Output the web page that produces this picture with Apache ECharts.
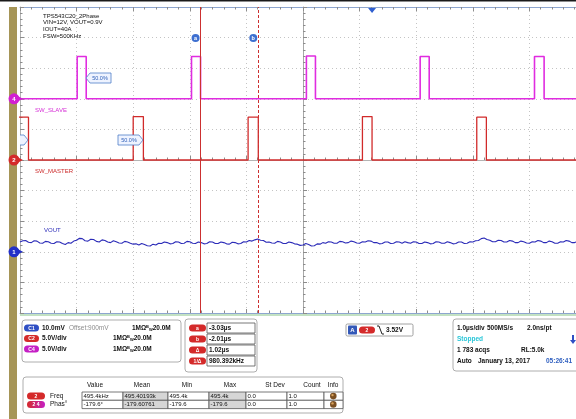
<!DOCTYPE html>
<html><head><meta charset="utf-8">
<script src="https://cdn.jsdelivr.net/npm/echarts@6/dist/echarts.min.js"></script>
<style>html,body{margin:0;padding:0;background:#fff;overflow:hidden;width:576px;height:419px}#c{width:600px;height:419px}</style>
</head><body><div id="c"></div>
<script>
// ---------------- data ----------------
const usPerDiv = 1.0;
const triggerDiv = 1.22;            // trigger position, divisions right of centre
const ch2VoltsPerDiv = 5.0, ch2OffsetDiv = 0;
const ch4VoltsPerDiv = 5.0, ch4OffsetDiv = 2;
const ch1mVPerDiv = 10.0, ch1OffsetmV = 900, ch1OffsetDiv = -3;

const ch2RiseUs = [-6.40, -4.22, -2.19, -0.17, 1.85];
const ch2FallUs = [-6.07, -4.04, -2.01, 0.00, 2.02];
const ch2HighV  = [7.0, 7.1, 7.0, 7.1, 7.0];
const ch4RiseUs = [-5.21, -3.19, -1.16, 0.85, 2.87];
const ch4FallUs = [-5.05, -3.03, -1.00, 1.01, 3.04];
const ch4HighV  = [6.9, 6.9, 7.0, 6.9, 6.9];

const voutStartUs = -6.22, voutStepUs = 0.05;
const voutmV = [
903.2,903.6,903.7,903.1,903.0,903.6,903.5,902.9,902.8,903.4,903.3,902.8,902.7,903.3,903.2,902.7,902.4,903.0,902.8,903.5,
903.8,904.4,904.3,903.6,903.5,904.1,904.0,903.4,903.2,903.9,903.7,903.2,903.0,903.6,903.3,902.9,902.8,903.4,903.2,902.8,
902.5,902.6,902.2,902.7,902.4,902.0,901.9,902.5,902.2,902.8,902.7,903.2,903.0,902.6,902.7,903.3,903.2,902.7,902.8,903.4,
903.3,902.8,902.7,903.2,903.0,902.6,902.7,903.3,903.2,902.7,902.7,903.2,903.0,902.6,902.5,903.1,903.0,902.6,902.7,903.3,
903.2,903.7,903.5,903.9,904.2,903.8,903.7,903.1,903.2,902.9,902.8,903.4,903.2,902.7,902.7,903.2,903.0,902.6,902.5,902.1,
902.2,902.7,902.4,901.9,902.0,902.6,902.5,903.0,902.8,903.3,903.2,902.8,902.8,903.4,903.3,902.9,903.0,903.5,903.3,902.9,
902.8,903.3,903.2,903.6,903.5,903.0,903.0,902.6,902.7,903.2,903.2,902.7,902.8,903.3,903.2,902.8,903.3,903.0,902.8,903.3,
903.2,902.7,902.7,903.2,903.0,902.6,902.7,903.3,903.2,902.8,902.8,903.3,903.0,902.6,902.7,903.2,903.2,902.7,902.8,903.3,
903.2,903.6,903.7,904.3,904.5,904.0,903.8,903.3,903.3,903.8,903.7,903.2,903.2,903.7,903.5,903.0,903.0,903.5,903.3,902.9,
902.8,903.3,903.2,903.7,903.5,903.0,903.0,903.5,903.3,902.8,902.8,903.3,903.2,903.7,903.5,903.0,903.0,903.4,903.2,903.6];

const cursorAUs = -3.03, cursorBUs = -2.01;

const titleLines = ['TPS543C20_2Phase', 'VIN=12V, VOUT=0.9V', 'IOUT=40A', 'FSW=500KHz'];
const chanRows = [
  {pill:'C1', color:'#2f4fc4', scale:'10.0mV', offset:'Offset:900mV', imp:'1MΩ', bw:'20.0M'},
  {pill:'C2', color:'#d42a2a', scale:'5.0V/div', offset:'', imp:'1MΩ', bw:'20.0M'},
  {pill:'C4', color:'#c51fc5', scale:'5.0V/div', offset:'', imp:'1MΩ', bw:'20.0M'}
];
const cursorLabels = ['a', 'b', 'Δ', '1/Δ'];
const cursorValues = ['-3.03µs', '-2.01µs', '1.02µs', '980.392kHz'];
const measHeaders = ['Value', 'Mean', 'Min', 'Max', 'St Dev', 'Count', 'Info'];
const measRows = [
  {name:'Freq',  cells:['495.4kHz', '495.40193k', '495.4k', '495.4k', '0.0', '1.0']},
  {name:'Phas°', cells:['-179.6°', '-179.60761', '-179.6', '-179.6', '0.0', '1.0']}
];
const timebase = ['1.0µs/div', '500MS/s', '2.0ns/pt', 'Stopped', '1 783 acqs', 'RL:5.0k', 'Auto', 'January 13, 2017', '05:26:41'];
const triggerLevel = '3.52V';

// ---------------- helpers ----------------
const xDiv = t => t / usPerDiv + triggerDiv;
function pulseTrain(rises, falls, highs, vpd, off) {
  const pts = [[xDiv(-8), off]];
  for (let i = 0; i < rises.length; i++) {
    pts.push([xDiv(rises[i]), off]);
    pts.push([xDiv(rises[i]), off + highs[i] / vpd]);
    pts.push([xDiv(falls[i]), off + highs[i] / vpd]);
    pts.push([xDiv(falls[i]), off]);
  }
  pts.push([xDiv(6), off]);
  return pts;
}
const ch2Data = pulseTrain(ch2RiseUs, ch2FallUs, ch2HighV, ch2VoltsPerDiv, ch2OffsetDiv);
const ch4Data = pulseTrain(ch4RiseUs, ch4FallUs, ch4HighV, ch4VoltsPerDiv, ch4OffsetDiv);
const ch1Data = voutmV.map((v, i) => [xDiv(voutStartUs + i * voutStepUs), (v - ch1OffsetmV) / ch1mVPerDiv + ch1OffsetDiv]);

const FONT = '"Liberation Sans", Arial, sans-serif';
const gridRect = {left: 20, top: 7, width: 566, height: 306};
const tickCol = '#8c8c8c';
function axisBase(extra) {
  return Object.assign({
    type: 'value', min: -5, max: 5, interval: 1,
    axisLabel: {show: false},
    axisTick: {show: true, inside: true, length: 4, lineStyle: {color: tickCol}},
    minorTick: {show: true, splitNumber: 5, length: 2.5, lineStyle: {color: tickCol}},
    splitLine: {show: false}
  }, extra);
}
const dotted = {show: true, lineStyle: {color: '#c4c4c4', type: [1, 3], width: 1}};

const chart = echarts.init(document.getElementById('c'), null, {renderer: 'canvas'});
chart.setOption({
  animation: false,
  backgroundColor: '#ffffff',
  grid: [Object.assign({}, gridRect), Object.assign({}, gridRect)],
  xAxis: [
    axisBase({gridIndex: 0, position: 'bottom', axisLine: {show: true, onZero: false, lineStyle: {color: '#8ea6cf'}}, splitLine: dotted}),
    axisBase({gridIndex: 0, position: 'top', axisLine: {show: true, onZero: false, lineStyle: {color: '#8ea6cf'}}}),
    axisBase({gridIndex: 1, axisLine: {show: true, onZero: true, lineStyle: {color: '#b4b4b4'}}})
  ],
  yAxis: [
    axisBase({gridIndex: 0, position: 'left', axisLine: {show: true, onZero: false, lineStyle: {color: '#b4b4b4'}}, splitLine: dotted}),
    axisBase({gridIndex: 1, axisLine: {show: true, onZero: true, lineStyle: {color: '#a8a8a8'}}})
  ],
  series: [
    {type: 'line', name: 'SW_SLAVE', xAxisIndex: 0, yAxisIndex: 0, data: ch4Data, showSymbol: false, clip: true,
     lineStyle: {color: '#e02ce0', width: 1.6}},
    {type: 'line', name: 'SW_MASTER', xAxisIndex: 0, yAxisIndex: 0, data: ch2Data, showSymbol: false, clip: true,
     lineStyle: {color: '#d12a2a', width: 1.3},
     markLine: {silent: true, symbol: 'none', label: {show: false},
       lineStyle: {color: '#cc3030', width: 1},
       data: [
         {xAxis: xDiv(cursorAUs), lineStyle: {color: '#cc3030', width: 1, type: 'solid'}},
         {xAxis: xDiv(cursorBUs), lineStyle: {color: '#cc3030', width: 1, type: [3, 2]}}
       ]}},
    {type: 'line', name: 'VOUT', xAxisIndex: 0, yAxisIndex: 0, data: ch1Data, showSymbol: false, clip: true,
     lineStyle: {color: '#2b2bb8', width: 1.1}}
  ]
});

// ---------------- graphics (scope UI) ----------------
const px = (x, y) => chart.convertToPixel({xAxisIndex: 0, yAxisIndex: 0}, [x, y]);
const G = [];
function txt(x, y, s, o) {
  o = o || {};
  G.push({type: 'text', x: x, y: y, z: 20, silent: true, style: {text: s, fill: o.fill || '#111',
    fontSize: o.size || 6.5, fontFamily: FONT, fontWeight: o.bold ? 'bold' : 'normal',
    textAlign: o.align || 'left', textVerticalAlign: 'middle'}});
}
function rect(x, y, w, h, fill, stroke, r, z) {
  G.push({type: 'rect', z: z || 10, silent: true, shape: {x: x, y: y, width: w, height: h, r: r || 0},
    style: {fill: fill, stroke: stroke || null, lineWidth: stroke ? 0.8 : 0}});
}
function pill(x, cy, w, color, label) {
  rect(x, cy - 3.5, w, 7, color, null, 3.5, 15);
  txt(x + w / 2, cy + 0.3, label, {fill: '#fff', size: 5, bold: true, align: 'center'});
}

// top dark line and left strip
rect(0, 0, 600, 1.5, '#1a1a1a');
rect(9, 7, 8, 412, '#a69557', null, 0, 5);
// bottom panel separator
G.push({type: 'line', z: 8, silent: true, shape: {x1: 20, y1: 315, x2: 600, y2: 315}, style: {stroke: '#86c486', lineWidth: 1}});

// title lines
titleLines.forEach((s, i) => txt(43, 16 + i * 6.7, s, {size: 6}));
// trace labels
txt(35, 110, 'SW_SLAVE', {fill: '#d52cd5', size: 6});
txt(35, 171, 'SW_MASTER', {fill: '#cc2a2a', size: 6});
txt(44, 230, 'VOUT', {fill: '#2b2bb8', size: 6});

// channel ground markers
[[ch4OffsetDiv, '#d21fd2', '4'], [ch2OffsetDiv, '#d42a2a', '2'], [ch1OffsetDiv, '#2330c8', '1']].forEach(m => {
  const y = px(-5, m[0])[1];
  G.push({type: 'polygon', z: 16, silent: true, shape: {points: [[17, y - 3], [23, y], [17, y + 3]]}, style: {fill: m[1]}});
  G.push({type: 'circle', z: 17, silent: true, shape: {cx: 14, cy: y, r: 5.5}, style: {fill: m[1]}});
  txt(14, y + 0.3, m[2], {fill: '#fff', size: 6, bold: true, align: 'center'});
});

// cursor a/b badges
[[cursorAUs, 'a'], [cursorBUs, 'b']].forEach(c => {
  const x = px(xDiv(c[0]), 0)[0] - 5;
  G.push({type: 'circle', z: 17, silent: true, shape: {cx: x, cy: 38, r: 4}, style: {fill: '#3d6fd0'}});
  txt(x, 38.3, c[1], {fill: '#fff', size: 5.5, bold: true, align: 'center'});
});
// trigger position marker
{
  const x = px(xDiv(0), 0)[0];
  G.push({type: 'polygon', z: 17, silent: true, shape: {points: [[x - 4, 8], [x + 4, 8], [x, 13]]}, style: {fill: '#2f5fd0'}});
}

// 50.0% callouts
function callout(x, y, w, dir) {
  const h = 10, p = 4;
  const pts = dir === 'left'
    ? [[x, y + h / 2], [x + p, y], [x + w, y], [x + w, y + h], [x + p, y + h]]
    : [[x, y], [x + w - p, y], [x + w, y + h / 2], [x + w - p, y + h], [x, y + h]];
  G.push({type: 'polygon', z: 14, silent: true, shape: {points: pts}, style: {fill: '#eef3ff', stroke: '#4f7fc8', lineWidth: 0.8}});
}
callout(86, 73, 25, 'left'); txt(100, 78.3, '50.0%', {fill: '#2d5fb8', size: 5.5, align: 'center'});
callout(118, 135, 25, 'right'); txt(129, 140.3, '50.0%', {fill: '#2d5fb8', size: 5.5, align: 'center'});
G.push({type: 'polyline', z: 14, silent: true, shape: {points: [[20, 135], [24, 135], [28, 140], [24, 145], [20, 145]]}, style: {fill: '#eef3ff', stroke: '#4f7fc8', lineWidth: 0.8}});

// channel box
rect(22, 320, 159, 42, '#fff', '#9a9a9a', 3);
chanRows.forEach((r, i) => {
  const cy = 328 + i * 10.5;
  pill(24, cy, 15, r.color, r.pill);
  txt(42, cy, r.scale, {bold: true});
  if (r.offset) txt(69, cy, r.offset, {fill: '#8c8c8c'});
  const ix = r.offset ? 132 : 113;
  txt(ix, cy, r.imp, {bold: true});
  G.push({type: 'text', x: ix + 14, y: cy, z: 20, silent: true, style: {
    text: '{b|B}{w|W}{v|' + r.bw + '}', textVerticalAlign: 'middle', fontFamily: FONT,
    rich: {b: {fontSize: 4, fill: '#111', verticalAlign: 'top', fontFamily: FONT, fontWeight: 'bold'},
           w: {fontSize: 4, fill: '#111', verticalAlign: 'bottom', fontFamily: FONT, fontWeight: 'bold'},
           v: {fontSize: 6.5, fill: '#111', fontFamily: FONT, fontWeight: 'bold'}}}});
});

// cursor readout box
rect(185, 319, 72, 53, '#fff', '#9a9a9a', 3);
cursorLabels.forEach((l, i) => {
  const cy = 328 + i * 11;
  pill(189, cy, 17, '#d42a2a', l);
  rect(207, cy - 5, 48, 10, '#fff', '#555', 0, 12);
  txt(209, cy, cursorValues[i], {bold: true});
});

// trigger box
rect(346, 324, 67, 12, '#fff', '#8a8a8a', 1.5);
rect(348, 325.5, 9, 9, '#3358b8', null, 1, 15);
txt(352.5, 330.3, 'A', {fill: '#fff', size: 6, bold: true, align: 'center'});
pill(359, 330, 16, '#d42a2a', '2');
G.push({type: 'polyline', z: 16, silent: true, shape: {points: [[377, 326], [379, 326], [382, 334], [384, 334]]}, style: {stroke: '#222', lineWidth: 1, fill: null}});
txt(386, 330, triggerLevel, {bold: true});

// timebase box
rect(453, 319, 140, 52, '#fff', '#9a9a9a', 3);
txt(457, 328, timebase[0], {bold: true});
txt(487, 328, timebase[1], {bold: true});
txt(527, 328, timebase[2], {bold: true});
txt(457, 339, timebase[3], {fill: '#28c6d8', bold: true});
rect(572, 335, 2, 5, '#2f4fc4', null, 0, 15);
G.push({type: 'polygon', z: 15, silent: true, shape: {points: [[570, 340], [576, 340], [573, 344]]}, style: {fill: '#2f4fc4'}});
txt(457, 350, timebase[4], {bold: true});
txt(521, 350, timebase[5], {bold: true});
txt(457, 361, timebase[6], {bold: true});
txt(478, 361, timebase[7], {bold: true});
txt(546, 361, timebase[8], {fill: '#3060c0', bold: true});

// measurement table
rect(23, 377, 320, 36, '#fff', '#9a9a9a', 3);
const colX = [82, 123, 168, 209, 246, 287, 324, 343];
const headC = [95, 142, 187, 230, 275, 312, 333];
measHeaders.forEach((h, i) => txt(headC[i], 385.5, h, {align: 'center'}));
measRows.forEach((r, ri) => {
  const y0 = 392 + ri * 8.3, cy = y0 + 4.1;
  if (ri === 0) pill(27, cy, 18, '#d42a2a', '2');
  else {
    G.push({type: 'rect', z: 15, silent: true, shape: {x: 27, y: cy - 3.5, width: 18, height: 7, r: 3.5},
      style: {fill: new echarts.graphic.LinearGradient(0, 0, 1, 0, [{offset: 0, color: '#d42a2a'}, {offset: 1, color: '#c51fc5'}])}});
    txt(36, cy + 0.3, '2 4', {fill: '#fff', size: 5, bold: true, align: 'center'});
  }
  txt(50, cy, r.name);
  for (let c = 0; c < 7; c++) {
    const grey = (c === 1 || c === 3);
    rect(colX[c], y0, colX[c + 1] - colX[c], 8.3, grey ? '#d6d6d6' : '#fff', '#555', 0, 12);
    if (c < 6) txt(colX[c] + 1.5, cy, r.cells[c], {size: 6});
  }
  G.push({type: 'circle', z: 16, silent: true, shape: {cx: 333.3, cy: cy, r: 3.3}, style: {fill: '#7b4f22'}});
  G.push({type: 'circle', z: 17, silent: true, shape: {cx: 332.5, cy: cy - 1, r: 1.2}, style: {fill: '#d9a25a'}});
});

chart.setOption({graphic: G});
</script>
</body></html>
